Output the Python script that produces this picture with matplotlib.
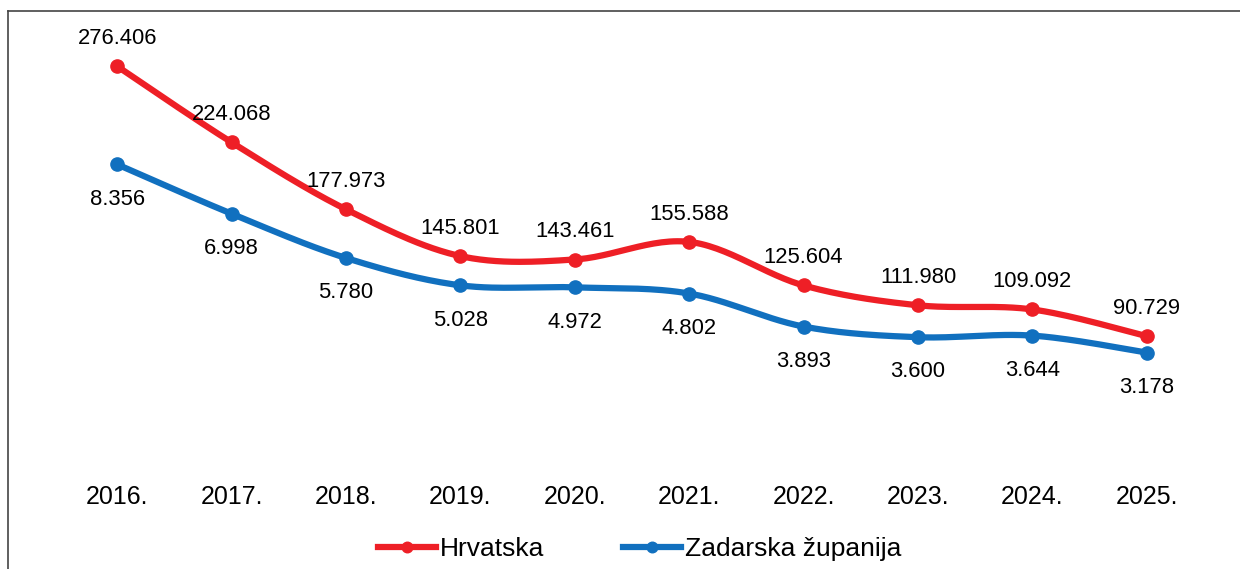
import numpy as np
import matplotlib.pyplot as plt
from matplotlib.lines import Line2D

plt.rcParams['font.family'] = ['Liberation Sans', 'DejaVu Sans']

years = ['2016.', '2017.', '2018.', '2019.', '2020.', '2021.', '2022.', '2023.', '2024.', '2025.']
hrvatska = [276.406, 224.068, 177.973, 145.801, 143.461, 155.588, 125.604, 111.980, 109.092, 90.729]
zadarska = [8.356, 6.998, 5.780, 5.028, 4.972, 4.802, 3.893, 3.600, 3.644, 3.178]

red = '#EE1F26'
blue = '#1170BF'


# smooth curve like Excel's "smoothed line" (Catmull-Rom through the points)
def smooth(x, y, n=30):
    x = np.asarray(x, float)
    y = np.asarray(y, float)
    px = np.concatenate([[x[0]], x, [x[-1]]])
    py = np.concatenate([[y[0]], y, [y[-1]]])
    xs, ys = [], []
    t = np.linspace(0, 1, n)
    for i in range(1, len(px) - 2):
        p0 = np.array([px[i], py[i]])
        p3 = np.array([px[i + 1], py[i + 1]])
        c1 = p0 + (p3 - np.array([px[i - 1], py[i - 1]])) / 6
        c2 = p3 - (np.array([px[i + 2], py[i + 2]]) - p0) / 6
        b = ((1 - t) ** 3)[:, None] * p0 + (3 * (1 - t) ** 2 * t)[:, None] * c1 \
            + (3 * (1 - t) * t ** 2)[:, None] * c2 + (t ** 3)[:, None] * p3
        xs.extend(b[:, 0])
        ys.extend(b[:, 1])
    return np.array(xs), np.array(ys)


def fmt(v):
    return f'{v:.3f}'


fig = plt.figure(figsize=(12.4, 5.69), dpi=100)
ax = fig.add_axes([60 / 1240, (569 - 468) / 569, 1144 / 1240, 436 / 569])
ax2 = ax.twinx()

x = np.arange(len(years))
lw = 4.5
ms = 9.5

sx, sy = smooth(x, hrvatska)
ax.plot(sx, sy, color=red, lw=lw, solid_capstyle='round', zorder=3)
ax.plot(x, hrvatska, 'o', color=red, ms=ms, zorder=4)
sx, sy = smooth(x, zadarska)
ax2.plot(sx, sy, color=blue, lw=lw, solid_capstyle='round', zorder=3)
ax2.plot(x, zadarska, 'o', color=blue, ms=ms, zorder=4)

for xi, v in zip(x, hrvatska):
    ax.annotate(fmt(v), (xi, v), xytext=(0, 20), textcoords='offset points',
                ha='center', va='center', fontsize=15.8)
for xi, v in zip(x, zadarska):
    ax2.annotate(fmt(v), (xi, v), xytext=(0, -25), textcoords='offset points',
                 ha='center', va='center', fontsize=15.8)

ax.set_xlim(-0.5, len(years) - 0.5)
ax.set_ylim(0, 300)
ax2.set_ylim(0, 12)
ax.set_xticks(x)
ax.set_xticklabels(years, fontsize=18)
ax.tick_params(axis='x', length=0, pad=12)
ax.set_yticks([])
ax2.set_yticks([])
for a in (ax, ax2):
    for s in a.spines.values():
        s.set_visible(False)

handles = [Line2D([], [], color=red, lw=lw, marker='o', ms=ms),
           Line2D([], [], color=blue, lw=lw, marker='o', ms=ms)]
fig.legend(handles, ['Hrvatska', 'Zadarska županija'], loc='center',
           bbox_to_anchor=(0.516, 0.035), ncol=2, frameon=False, fontsize=19,
           handlelength=2.2, handletextpad=0.15, columnspacing=3.0, markerscale=0.8)

# outer frame (left, top edges of chart area)
fx = 8 / 1240
fy = 1 - 11 / 569
fig.add_artist(Line2D([fx, fx], [0, fy], color='#444444', lw=1.2))
fig.add_artist(Line2D([fx, 1], [fy, fy], color='#444444', lw=1.2))

fig.savefig('out.png', dpi=100)
